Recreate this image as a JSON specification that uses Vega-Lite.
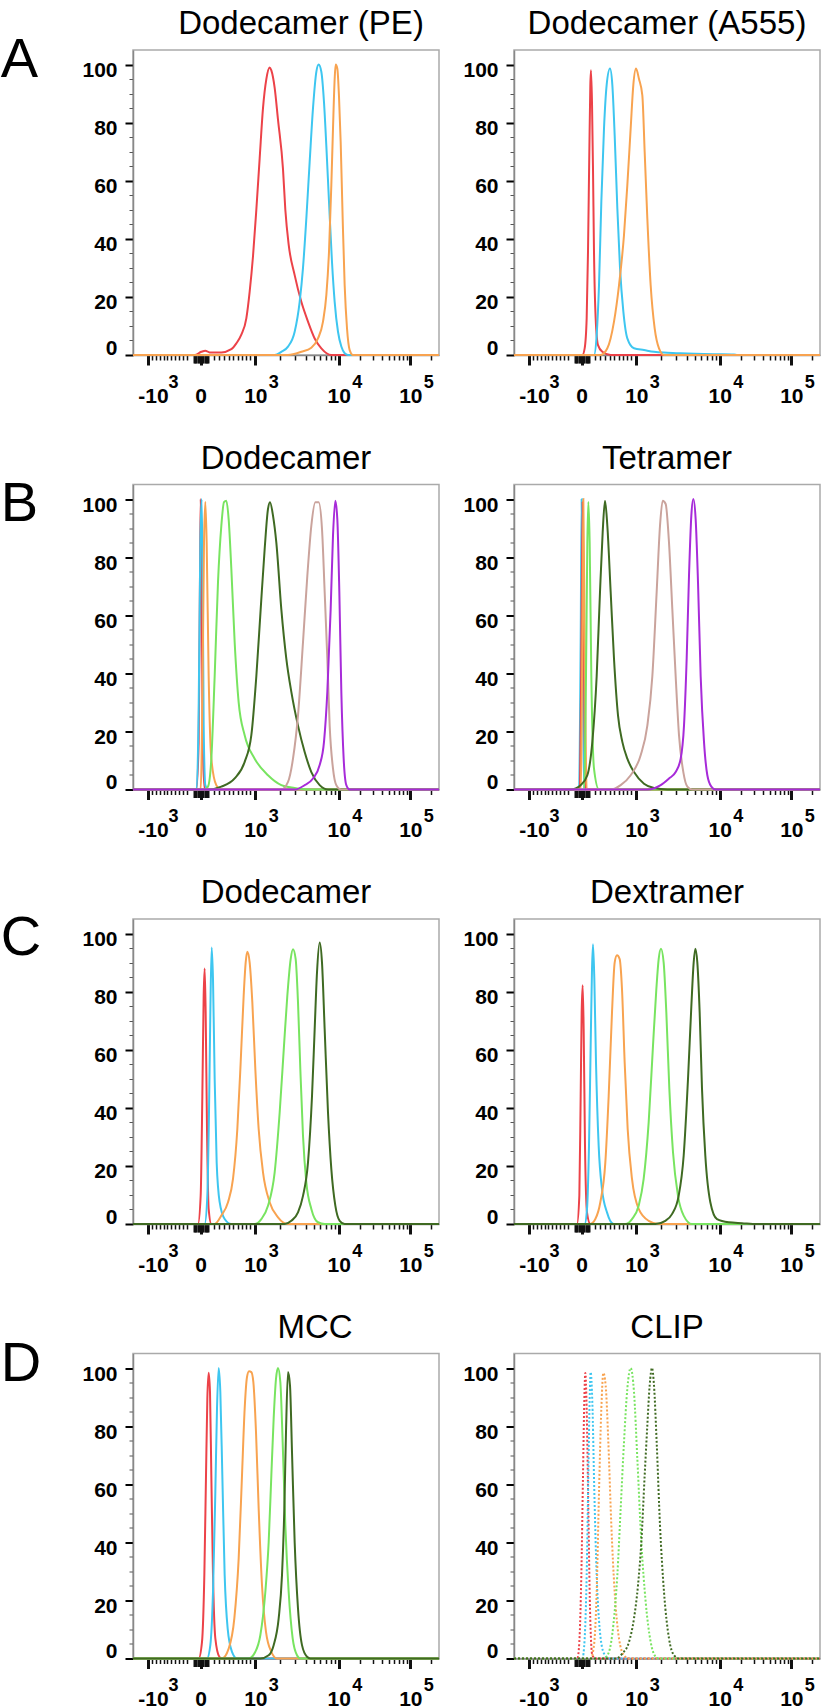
{
"$schema":"https://vega.github.io/schema/vega-lite/v6.json",
"padding":{"left":0,"top":7,"right":0,"bottom":0},
"data":{"values":[
{"p":"A1","s":"red","x":0,"y":0},{"p":"A1","s":"red","x":185,"y":0},{"p":"A1","s":"red","x":205,"y":1.1},{"p":"A1","s":"red","x":217,"y":1.5},{"p":"A1","s":"red","x":230,"y":0.9},{"p":"A1","s":"red","x":265,"y":0.9},{"p":"A1","s":"red","x":295,"y":2},{"p":"A1","s":"red","x":310,"y":4},{"p":"A1","s":"red","x":325,"y":7},{"p":"A1","s":"red","x":340,"y":12.6},{"p":"A1","s":"red","x":350,"y":21.8},{"p":"A1","s":"red","x":360,"y":34},{"p":"A1","s":"red","x":370,"y":50},{"p":"A1","s":"red","x":380,"y":67.7},{"p":"A1","s":"red","x":390,"y":85},{"p":"A1","s":"red","x":400,"y":95},{"p":"A1","s":"red","x":410,"y":99},{"p":"A1","s":"red","x":415,"y":98},{"p":"A1","s":"red","x":425,"y":92},{"p":"A1","s":"red","x":435,"y":81},{"p":"A1","s":"red","x":450,"y":64},{"p":"A1","s":"red","x":457,"y":50},{"p":"A1","s":"red","x":467,"y":38},{"p":"A1","s":"red","x":485,"y":27.5},{"p":"A1","s":"red","x":505,"y":18.3},{"p":"A1","s":"red","x":525,"y":11.5},{"p":"A1","s":"red","x":545,"y":5.7},{"p":"A1","s":"red","x":565,"y":2.3},{"p":"A1","s":"red","x":595,"y":0},{"p":"A1","s":"red","x":918,"y":0},
{"p":"A1","s":"cyan","x":0,"y":0},{"p":"A1","s":"cyan","x":425,"y":0},{"p":"A1","s":"cyan","x":445,"y":1.1},{"p":"A1","s":"cyan","x":465,"y":2.9},{"p":"A1","s":"cyan","x":485,"y":8},{"p":"A1","s":"cyan","x":500,"y":18.3},{"p":"A1","s":"cyan","x":510,"y":30},{"p":"A1","s":"cyan","x":520,"y":47},{"p":"A1","s":"cyan","x":530,"y":66.5},{"p":"A1","s":"cyan","x":540,"y":85},{"p":"A1","s":"cyan","x":550,"y":97.5},{"p":"A1","s":"cyan","x":557,"y":100},{"p":"A1","s":"cyan","x":565,"y":97.5},{"p":"A1","s":"cyan","x":573,"y":87},{"p":"A1","s":"cyan","x":580,"y":72},{"p":"A1","s":"cyan","x":588,"y":52.8},{"p":"A1","s":"cyan","x":597,"y":32},{"p":"A1","s":"cyan","x":605,"y":18.3},{"p":"A1","s":"cyan","x":615,"y":8},{"p":"A1","s":"cyan","x":625,"y":2.9},{"p":"A1","s":"cyan","x":635,"y":0.6},{"p":"A1","s":"cyan","x":645,"y":0},{"p":"A1","s":"cyan","x":918,"y":0},
{"p":"A1","s":"orange","x":0,"y":0},{"p":"A1","s":"orange","x":465,"y":0},{"p":"A1","s":"orange","x":505,"y":1.1},{"p":"A1","s":"orange","x":535,"y":2.5},{"p":"A1","s":"orange","x":555,"y":5.7},{"p":"A1","s":"orange","x":570,"y":11.5},{"p":"A1","s":"orange","x":580,"y":20.6},{"p":"A1","s":"orange","x":588,"y":35.5},{"p":"A1","s":"orange","x":595,"y":58.5},{"p":"A1","s":"orange","x":600,"y":78},{"p":"A1","s":"orange","x":605,"y":95},{"p":"A1","s":"orange","x":608,"y":100},{"p":"A1","s":"orange","x":613,"y":98.6},{"p":"A1","s":"orange","x":618,"y":89},{"p":"A1","s":"orange","x":623,"y":73.4},{"p":"A1","s":"orange","x":629,"y":47},{"p":"A1","s":"orange","x":635,"y":24},{"p":"A1","s":"orange","x":642,"y":9.2},{"p":"A1","s":"orange","x":650,"y":1.7},{"p":"A1","s":"orange","x":660,"y":0},{"p":"A1","s":"orange","x":918,"y":0},

{"p":"A2","s":"red","x":0,"y":0},{"p":"A2","s":"red","x":205,"y":0},{"p":"A2","s":"red","x":212,"y":2.3},{"p":"A2","s":"red","x":218,"y":12.6},{"p":"A2","s":"red","x":222,"y":35.5},{"p":"A2","s":"red","x":226,"y":70},{"p":"A2","s":"red","x":229,"y":93},{"p":"A2","s":"red","x":231,"y":98},{"p":"A2","s":"red","x":234,"y":87},{"p":"A2","s":"red","x":237,"y":64},{"p":"A2","s":"red","x":240,"y":35.5},{"p":"A2","s":"red","x":245,"y":12.6},{"p":"A2","s":"red","x":252,"y":3.4},{"p":"A2","s":"red","x":265,"y":1.1},{"p":"A2","s":"red","x":290,"y":0},{"p":"A2","s":"red","x":918,"y":0},
{"p":"A2","s":"cyan","x":0,"y":0},{"p":"A2","s":"cyan","x":240,"y":0},{"p":"A2","s":"cyan","x":248,"y":6.9},{"p":"A2","s":"cyan","x":255,"y":24},{"p":"A2","s":"cyan","x":262,"y":52.8},{"p":"A2","s":"cyan","x":270,"y":78},{"p":"A2","s":"cyan","x":278,"y":93},{"p":"A2","s":"cyan","x":288,"y":98.6},{"p":"A2","s":"cyan","x":295,"y":93},{"p":"A2","s":"cyan","x":302,"y":75.7},{"p":"A2","s":"cyan","x":310,"y":50.5},{"p":"A2","s":"cyan","x":318,"y":30},{"p":"A2","s":"cyan","x":328,"y":15},{"p":"A2","s":"cyan","x":340,"y":5.7},{"p":"A2","s":"cyan","x":360,"y":2.3},{"p":"A2","s":"cyan","x":390,"y":1.7},{"p":"A2","s":"cyan","x":420,"y":1.1},{"p":"A2","s":"cyan","x":460,"y":0.8},{"p":"A2","s":"cyan","x":500,"y":0.6},{"p":"A2","s":"cyan","x":600,"y":0.3},{"p":"A2","s":"cyan","x":660,"y":0.2},{"p":"A2","s":"cyan","x":670,"y":0},{"p":"A2","s":"cyan","x":918,"y":0},
{"p":"A2","s":"orange","x":0,"y":0},{"p":"A2","s":"orange","x":260,"y":0},{"p":"A2","s":"orange","x":280,"y":2.3},{"p":"A2","s":"orange","x":300,"y":11.5},{"p":"A2","s":"orange","x":315,"y":24},{"p":"A2","s":"orange","x":330,"y":41.3},{"p":"A2","s":"orange","x":340,"y":58.5},{"p":"A2","s":"orange","x":350,"y":78},{"p":"A2","s":"orange","x":358,"y":93},{"p":"A2","s":"orange","x":366,"y":98.6},{"p":"A2","s":"orange","x":375,"y":95},{"p":"A2","s":"orange","x":385,"y":89.4},{"p":"A2","s":"orange","x":392,"y":70},{"p":"A2","s":"orange","x":400,"y":47},{"p":"A2","s":"orange","x":410,"y":24},{"p":"A2","s":"orange","x":422,"y":9.2},{"p":"A2","s":"orange","x":435,"y":2.3},{"p":"A2","s":"orange","x":450,"y":0},{"p":"A2","s":"orange","x":918,"y":0},

{"p":"B1","s":"red","x":0,"y":0},{"p":"B1","s":"red","x":190,"y":0},{"p":"B1","s":"red","x":197,"y":16},{"p":"B1","s":"red","x":201,"y":73.6},{"p":"B1","s":"red","x":203,"y":100},{"p":"B1","s":"red","x":206,"y":73.6},{"p":"B1","s":"red","x":209,"y":16},{"p":"B1","s":"red","x":215,"y":0},{"p":"B1","s":"red","x":918,"y":0},
{"p":"B1","s":"cyan","x":0,"y":0},{"p":"B1","s":"cyan","x":191,"y":0},{"p":"B1","s":"cyan","x":197,"y":27.8},{"p":"B1","s":"cyan","x":202,"y":85},{"p":"B1","s":"cyan","x":206,"y":100},{"p":"B1","s":"cyan","x":209,"y":73.6},{"p":"B1","s":"cyan","x":212,"y":22},{"p":"B1","s":"cyan","x":217,"y":1.5},{"p":"B1","s":"cyan","x":225,"y":0},{"p":"B1","s":"cyan","x":918,"y":0},
{"p":"B1","s":"orange","x":0,"y":0},{"p":"B1","s":"orange","x":203,"y":0},{"p":"B1","s":"orange","x":209,"y":39},{"p":"B1","s":"orange","x":213,"y":85},{"p":"B1","s":"orange","x":217,"y":99},{"p":"B1","s":"orange","x":221,"y":85},{"p":"B1","s":"orange","x":227,"y":39},{"p":"B1","s":"orange","x":235,"y":10.6},{"p":"B1","s":"orange","x":250,"y":1.5},{"p":"B1","s":"orange","x":265,"y":0},{"p":"B1","s":"orange","x":918,"y":0},
{"p":"B1","s":"green","x":0,"y":0},{"p":"B1","s":"green","x":215,"y":0},{"p":"B1","s":"green","x":225,"y":1},{"p":"B1","s":"green","x":235,"y":10.6},{"p":"B1","s":"green","x":245,"y":39},{"p":"B1","s":"green","x":255,"y":71.4},{"p":"B1","s":"green","x":265,"y":90.8},{"p":"B1","s":"green","x":273,"y":98.9},{"p":"B1","s":"green","x":280,"y":99.4},{"p":"B1","s":"green","x":287,"y":93},{"p":"B1","s":"green","x":295,"y":76},{"p":"B1","s":"green","x":305,"y":50.7},{"p":"B1","s":"green","x":317,"y":30},{"p":"B1","s":"green","x":335,"y":18.7},{"p":"B1","s":"green","x":365,"y":10.6},{"p":"B1","s":"green","x":405,"y":4.9},{"p":"B1","s":"green","x":445,"y":1.5},{"p":"B1","s":"green","x":485,"y":0.5},{"p":"B1","s":"green","x":525,"y":0},{"p":"B1","s":"green","x":918,"y":0},
{"p":"B1","s":"darkgreen","x":0,"y":0},{"p":"B1","s":"darkgreen","x":225,"y":0},{"p":"B1","s":"darkgreen","x":265,"y":1},{"p":"B1","s":"darkgreen","x":305,"y":3.8},{"p":"B1","s":"darkgreen","x":335,"y":9.5},{"p":"B1","s":"darkgreen","x":355,"y":18.7},{"p":"B1","s":"darkgreen","x":370,"y":39},{"p":"B1","s":"darkgreen","x":383,"y":62},{"p":"B1","s":"darkgreen","x":395,"y":82.8},{"p":"B1","s":"darkgreen","x":405,"y":96.6},{"p":"B1","s":"darkgreen","x":411,"y":98.9},{"p":"B1","s":"darkgreen","x":420,"y":94.3},{"p":"B1","s":"darkgreen","x":430,"y":85},{"p":"B1","s":"darkgreen","x":445,"y":62},{"p":"B1","s":"darkgreen","x":460,"y":45},{"p":"B1","s":"darkgreen","x":475,"y":33.6},{"p":"B1","s":"darkgreen","x":495,"y":22},{"p":"B1","s":"darkgreen","x":515,"y":12.9},{"p":"B1","s":"darkgreen","x":535,"y":6},{"p":"B1","s":"darkgreen","x":560,"y":1.5},{"p":"B1","s":"darkgreen","x":585,"y":0},{"p":"B1","s":"darkgreen","x":918,"y":0},
{"p":"B1","s":"rosybrown","x":0,"y":0},{"p":"B1","s":"rosybrown","x":445,"y":0},{"p":"B1","s":"rosybrown","x":465,"y":2.6},{"p":"B1","s":"rosybrown","x":480,"y":10.6},{"p":"B1","s":"rosybrown","x":495,"y":25.5},{"p":"B1","s":"rosybrown","x":510,"y":50.7},{"p":"B1","s":"rosybrown","x":523,"y":73.6},{"p":"B1","s":"rosybrown","x":535,"y":90.8},{"p":"B1","s":"rosybrown","x":547,"y":98.9},{"p":"B1","s":"rosybrown","x":557,"y":98.9},{"p":"B1","s":"rosybrown","x":567,"y":89.7},{"p":"B1","s":"rosybrown","x":575,"y":68},{"p":"B1","s":"rosybrown","x":583,"y":45},{"p":"B1","s":"rosybrown","x":590,"y":22},{"p":"B1","s":"rosybrown","x":600,"y":7.2},{"p":"B1","s":"rosybrown","x":610,"y":1.5},{"p":"B1","s":"rosybrown","x":625,"y":0},{"p":"B1","s":"rosybrown","x":918,"y":0},
{"p":"B1","s":"purple","x":0,"y":0},{"p":"B1","s":"purple","x":485,"y":0},{"p":"B1","s":"purple","x":515,"y":1.5},{"p":"B1","s":"purple","x":540,"y":3.8},{"p":"B1","s":"purple","x":560,"y":8.4},{"p":"B1","s":"purple","x":573,"y":16.4},{"p":"B1","s":"purple","x":583,"y":33.6},{"p":"B1","s":"purple","x":593,"y":62},{"p":"B1","s":"purple","x":600,"y":87.4},{"p":"B1","s":"purple","x":607,"y":99.4},{"p":"B1","s":"purple","x":613,"y":93},{"p":"B1","s":"purple","x":619,"y":68},{"p":"B1","s":"purple","x":625,"y":33.6},{"p":"B1","s":"purple","x":632,"y":10.6},{"p":"B1","s":"purple","x":640,"y":1.5},{"p":"B1","s":"purple","x":650,"y":0},{"p":"B1","s":"purple","x":918,"y":0},

{"p":"B2","s":"cyan","x":0,"y":0},{"p":"B2","s":"cyan","x":195,"y":0},{"p":"B2","s":"cyan","x":200,"y":51},{"p":"B2","s":"cyan","x":203,"y":100},{"p":"B2","s":"cyan","x":206,"y":51},{"p":"B2","s":"cyan","x":211,"y":0},{"p":"B2","s":"cyan","x":918,"y":0},
{"p":"B2","s":"red","x":0,"y":0},{"p":"B2","s":"red","x":198,"y":0},{"p":"B2","s":"red","x":203,"y":62},{"p":"B2","s":"red","x":206,"y":99},{"p":"B2","s":"red","x":209,"y":62},{"p":"B2","s":"red","x":214,"y":0},{"p":"B2","s":"red","x":918,"y":0},
{"p":"B2","s":"orange","x":0,"y":0},{"p":"B2","s":"orange","x":200,"y":0},{"p":"B2","s":"orange","x":205,"y":51},{"p":"B2","s":"orange","x":208,"y":100},{"p":"B2","s":"orange","x":212,"y":51},{"p":"B2","s":"orange","x":218,"y":0},{"p":"B2","s":"orange","x":918,"y":0},
{"p":"B2","s":"green","x":0,"y":0},{"p":"B2","s":"green","x":210,"y":0},{"p":"B2","s":"green","x":216,"y":39},{"p":"B2","s":"green","x":220,"y":85},{"p":"B2","s":"green","x":223,"y":99},{"p":"B2","s":"green","x":227,"y":85},{"p":"B2","s":"green","x":232,"y":39},{"p":"B2","s":"green","x":240,"y":7.2},{"p":"B2","s":"green","x":255,"y":0},{"p":"B2","s":"green","x":918,"y":0},
{"p":"B2","s":"darkgreen","x":0,"y":0},{"p":"B2","s":"darkgreen","x":170,"y":0},{"p":"B2","s":"darkgreen","x":200,"y":1.5},{"p":"B2","s":"darkgreen","x":220,"y":4.9},{"p":"B2","s":"darkgreen","x":235,"y":16.4},{"p":"B2","s":"darkgreen","x":248,"y":39},{"p":"B2","s":"darkgreen","x":258,"y":68},{"p":"B2","s":"darkgreen","x":266,"y":88.5},{"p":"B2","s":"darkgreen","x":273,"y":99.4},{"p":"B2","s":"darkgreen","x":280,"y":90.8},{"p":"B2","s":"darkgreen","x":290,"y":68},{"p":"B2","s":"darkgreen","x":300,"y":45},{"p":"B2","s":"darkgreen","x":312,"y":25.5},{"p":"B2","s":"darkgreen","x":325,"y":16.4},{"p":"B2","s":"darkgreen","x":340,"y":10.6},{"p":"B2","s":"darkgreen","x":360,"y":6},{"p":"B2","s":"darkgreen","x":390,"y":2},{"p":"B2","s":"darkgreen","x":420,"y":0.5},{"p":"B2","s":"darkgreen","x":460,"y":0},{"p":"B2","s":"darkgreen","x":918,"y":0},
{"p":"B2","s":"rosybrown","x":0,"y":0},{"p":"B2","s":"rosybrown","x":290,"y":0},{"p":"B2","s":"rosybrown","x":320,"y":1.5},{"p":"B2","s":"rosybrown","x":350,"y":4.9},{"p":"B2","s":"rosybrown","x":380,"y":11.8},{"p":"B2","s":"rosybrown","x":400,"y":22},{"p":"B2","s":"rosybrown","x":415,"y":39},{"p":"B2","s":"rosybrown","x":428,"y":68},{"p":"B2","s":"rosybrown","x":438,"y":90.8},{"p":"B2","s":"rosybrown","x":446,"y":99.4},{"p":"B2","s":"rosybrown","x":455,"y":98.3},{"p":"B2","s":"rosybrown","x":465,"y":85},{"p":"B2","s":"rosybrown","x":475,"y":62},{"p":"B2","s":"rosybrown","x":485,"y":39},{"p":"B2","s":"rosybrown","x":495,"y":18.7},{"p":"B2","s":"rosybrown","x":508,"y":6},{"p":"B2","s":"rosybrown","x":520,"y":1},{"p":"B2","s":"rosybrown","x":535,"y":0},{"p":"B2","s":"rosybrown","x":918,"y":0},
{"p":"B2","s":"purple","x":0,"y":0},{"p":"B2","s":"purple","x":400,"y":0},{"p":"B2","s":"purple","x":440,"y":1.5},{"p":"B2","s":"purple","x":465,"y":3.8},{"p":"B2","s":"purple","x":485,"y":6},{"p":"B2","s":"purple","x":500,"y":10.6},{"p":"B2","s":"purple","x":510,"y":22},{"p":"B2","s":"purple","x":518,"y":45},{"p":"B2","s":"purple","x":525,"y":73.6},{"p":"B2","s":"purple","x":532,"y":94.3},{"p":"B2","s":"purple","x":538,"y":100},{"p":"B2","s":"purple","x":545,"y":93},{"p":"B2","s":"purple","x":552,"y":71.4},{"p":"B2","s":"purple","x":560,"y":39},{"p":"B2","s":"purple","x":570,"y":16.4},{"p":"B2","s":"purple","x":580,"y":4.9},{"p":"B2","s":"purple","x":592,"y":1},{"p":"B2","s":"purple","x":605,"y":0},{"p":"B2","s":"purple","x":918,"y":0},

{"p":"C1","s":"red","x":0,"y":0},{"p":"C1","s":"red","x":195,"y":0},{"p":"C1","s":"red","x":203,"y":9.7},{"p":"C1","s":"red","x":208,"y":44},{"p":"C1","s":"red","x":212,"y":78.6},{"p":"C1","s":"red","x":215,"y":88},{"p":"C1","s":"red","x":218,"y":72.8},{"p":"C1","s":"red","x":222,"y":32.7},{"p":"C1","s":"red","x":227,"y":5.2},{"p":"C1","s":"red","x":235,"y":0},{"p":"C1","s":"red","x":918,"y":0},
{"p":"C1","s":"cyan","x":0,"y":0},{"p":"C1","s":"cyan","x":215,"y":0},{"p":"C1","s":"cyan","x":223,"y":9.7},{"p":"C1","s":"cyan","x":228,"y":38.4},{"p":"C1","s":"cyan","x":232,"y":72.8},{"p":"C1","s":"cyan","x":236,"y":95.2},{"p":"C1","s":"cyan","x":240,"y":84.3},{"p":"C1","s":"cyan","x":245,"y":49.9},{"p":"C1","s":"cyan","x":251,"y":21.2},{"p":"C1","s":"cyan","x":260,"y":7.5},{"p":"C1","s":"cyan","x":275,"y":1.7},{"p":"C1","s":"cyan","x":295,"y":0},{"p":"C1","s":"cyan","x":918,"y":0},
{"p":"C1","s":"orange","x":0,"y":0},{"p":"C1","s":"orange","x":245,"y":0},{"p":"C1","s":"orange","x":265,"y":2.9},{"p":"C1","s":"orange","x":285,"y":7.5},{"p":"C1","s":"orange","x":300,"y":15.5},{"p":"C1","s":"orange","x":313,"y":32.7},{"p":"C1","s":"orange","x":323,"y":55.6},{"p":"C1","s":"orange","x":332,"y":78.6},{"p":"C1","s":"orange","x":338,"y":90},{"p":"C1","s":"orange","x":343,"y":93.7},{"p":"C1","s":"orange","x":350,"y":90},{"p":"C1","s":"orange","x":358,"y":76.3},{"p":"C1","s":"orange","x":367,"y":53.3},{"p":"C1","s":"orange","x":377,"y":32.7},{"p":"C1","s":"orange","x":390,"y":17.8},{"p":"C1","s":"orange","x":410,"y":7.5},{"p":"C1","s":"orange","x":435,"y":2.3},{"p":"C1","s":"orange","x":465,"y":0},{"p":"C1","s":"orange","x":918,"y":0},
{"p":"C1","s":"green","x":0,"y":0},{"p":"C1","s":"green","x":365,"y":0},{"p":"C1","s":"green","x":385,"y":1.7},{"p":"C1","s":"green","x":405,"y":6.3},{"p":"C1","s":"green","x":425,"y":17.8},{"p":"C1","s":"green","x":440,"y":38.4},{"p":"C1","s":"green","x":453,"y":61.4},{"p":"C1","s":"green","x":463,"y":78.6},{"p":"C1","s":"green","x":473,"y":91.2},{"p":"C1","s":"green","x":480,"y":94.6},{"p":"C1","s":"green","x":488,"y":91.2},{"p":"C1","s":"green","x":495,"y":76.3},{"p":"C1","s":"green","x":502,"y":53.3},{"p":"C1","s":"green","x":510,"y":30.4},{"p":"C1","s":"green","x":520,"y":14.3},{"p":"C1","s":"green","x":535,"y":5.2},{"p":"C1","s":"green","x":555,"y":0.6},{"p":"C1","s":"green","x":575,"y":0},{"p":"C1","s":"green","x":918,"y":0},
{"p":"C1","s":"darkgreen","x":0,"y":0},{"p":"C1","s":"darkgreen","x":455,"y":0},{"p":"C1","s":"darkgreen","x":475,"y":1.1},{"p":"C1","s":"darkgreen","x":495,"y":4},{"p":"C1","s":"darkgreen","x":510,"y":9.7},{"p":"C1","s":"darkgreen","x":525,"y":21.2},{"p":"C1","s":"darkgreen","x":537,"y":44},{"p":"C1","s":"darkgreen","x":545,"y":67},{"p":"C1","s":"darkgreen","x":552,"y":86.6},{"p":"C1","s":"darkgreen","x":560,"y":96.9},{"p":"C1","s":"darkgreen","x":567,"y":90},{"p":"C1","s":"darkgreen","x":575,"y":67},{"p":"C1","s":"darkgreen","x":585,"y":38.4},{"p":"C1","s":"darkgreen","x":595,"y":18.9},{"p":"C1","s":"darkgreen","x":607,"y":6.3},{"p":"C1","s":"darkgreen","x":620,"y":1.1},{"p":"C1","s":"darkgreen","x":635,"y":0},{"p":"C1","s":"darkgreen","x":918,"y":0},

{"p":"C2","s":"red","x":0,"y":0},{"p":"C2","s":"red","x":189,"y":0},{"p":"C2","s":"red","x":196,"y":9.7},{"p":"C2","s":"red","x":200,"y":44},{"p":"C2","s":"red","x":203,"y":72.8},{"p":"C2","s":"red","x":206,"y":82.2},{"p":"C2","s":"red","x":209,"y":67},{"p":"C2","s":"red","x":213,"y":26.9},{"p":"C2","s":"red","x":219,"y":4},{"p":"C2","s":"red","x":229,"y":0},{"p":"C2","s":"red","x":918,"y":0},
{"p":"C2","s":"cyan","x":0,"y":0},{"p":"C2","s":"cyan","x":212,"y":0},{"p":"C2","s":"cyan","x":219,"y":5.2},{"p":"C2","s":"cyan","x":225,"y":26.9},{"p":"C2","s":"cyan","x":230,"y":61.4},{"p":"C2","s":"cyan","x":234,"y":87.7},{"p":"C2","s":"cyan","x":237,"y":96.3},{"p":"C2","s":"cyan","x":241,"y":84.3},{"p":"C2","s":"cyan","x":246,"y":55.6},{"p":"C2","s":"cyan","x":254,"y":26.9},{"p":"C2","s":"cyan","x":264,"y":12},{"p":"C2","s":"cyan","x":279,"y":4},{"p":"C2","s":"cyan","x":299,"y":0},{"p":"C2","s":"cyan","x":918,"y":0},
{"p":"C2","s":"orange","x":0,"y":0},{"p":"C2","s":"orange","x":229,"y":0},{"p":"C2","s":"orange","x":244,"y":1.7},{"p":"C2","s":"orange","x":259,"y":7.5},{"p":"C2","s":"orange","x":274,"y":21.2},{"p":"C2","s":"orange","x":284,"y":44},{"p":"C2","s":"orange","x":294,"y":72.8},{"p":"C2","s":"orange","x":302,"y":90},{"p":"C2","s":"orange","x":309,"y":92.5},{"p":"C2","s":"orange","x":317,"y":91.2},{"p":"C2","s":"orange","x":324,"y":80.8},{"p":"C2","s":"orange","x":332,"y":55.6},{"p":"C2","s":"orange","x":341,"y":32.7},{"p":"C2","s":"orange","x":354,"y":15.5},{"p":"C2","s":"orange","x":374,"y":5.2},{"p":"C2","s":"orange","x":404,"y":1.1},{"p":"C2","s":"orange","x":434,"y":0},{"p":"C2","s":"orange","x":918,"y":0},
{"p":"C2","s":"green","x":0,"y":0},{"p":"C2","s":"green","x":334,"y":0},{"p":"C2","s":"green","x":354,"y":1.7},{"p":"C2","s":"green","x":374,"y":6.3},{"p":"C2","s":"green","x":389,"y":15.5},{"p":"C2","s":"green","x":404,"y":35},{"p":"C2","s":"green","x":417,"y":61.4},{"p":"C2","s":"green","x":427,"y":80.8},{"p":"C2","s":"green","x":434,"y":91.2},{"p":"C2","s":"green","x":441,"y":94.8},{"p":"C2","s":"green","x":449,"y":90},{"p":"C2","s":"green","x":457,"y":72.8},{"p":"C2","s":"green","x":466,"y":46.6},{"p":"C2","s":"green","x":477,"y":24.7},{"p":"C2","s":"green","x":492,"y":9.7},{"p":"C2","s":"green","x":509,"y":2.9},{"p":"C2","s":"green","x":534,"y":0},{"p":"C2","s":"green","x":918,"y":0},
{"p":"C2","s":"darkgreen","x":0,"y":0},{"p":"C2","s":"darkgreen","x":424,"y":0},{"p":"C2","s":"darkgreen","x":454,"y":1.1},{"p":"C2","s":"darkgreen","x":474,"y":3.4},{"p":"C2","s":"darkgreen","x":494,"y":9.7},{"p":"C2","s":"darkgreen","x":509,"y":23.5},{"p":"C2","s":"darkgreen","x":522,"y":49.9},{"p":"C2","s":"darkgreen","x":532,"y":74.9},{"p":"C2","s":"darkgreen","x":539,"y":90},{"p":"C2","s":"darkgreen","x":544,"y":94.8},{"p":"C2","s":"darkgreen","x":550,"y":90},{"p":"C2","s":"darkgreen","x":557,"y":72.8},{"p":"C2","s":"darkgreen","x":564,"y":46.6},{"p":"C2","s":"darkgreen","x":574,"y":23.5},{"p":"C2","s":"darkgreen","x":589,"y":7.5},{"p":"C2","s":"darkgreen","x":609,"y":1.7},{"p":"C2","s":"darkgreen","x":644,"y":0.6},{"p":"C2","s":"darkgreen","x":684,"y":0.3},{"p":"C2","s":"darkgreen","x":730,"y":0},{"p":"C2","s":"darkgreen","x":918,"y":0},

{"p":"D1","s":"red","x":0,"y":0},{"p":"D1","s":"red","x":197,"y":0},{"p":"D1","s":"red","x":207,"y":5.7},{"p":"D1","s":"red","x":214,"y":28.7},{"p":"D1","s":"red","x":219,"y":63},{"p":"D1","s":"red","x":223,"y":89.4},{"p":"D1","s":"red","x":227,"y":98.4},{"p":"D1","s":"red","x":231,"y":91.7},{"p":"D1","s":"red","x":235,"y":63},{"p":"D1","s":"red","x":240,"y":28.7},{"p":"D1","s":"red","x":247,"y":6.9},{"p":"D1","s":"red","x":259,"y":0.6},{"p":"D1","s":"red","x":267,"y":0},{"p":"D1","s":"red","x":918,"y":0},
{"p":"D1","s":"cyan","x":0,"y":0},{"p":"D1","s":"cyan","x":222,"y":0},{"p":"D1","s":"cyan","x":232,"y":4.6},{"p":"D1","s":"cyan","x":240,"y":22.9},{"p":"D1","s":"cyan","x":247,"y":57.3},{"p":"D1","s":"cyan","x":252,"y":86},{"p":"D1","s":"cyan","x":257,"y":100},{"p":"D1","s":"cyan","x":262,"y":91.7},{"p":"D1","s":"cyan","x":268,"y":63},{"p":"D1","s":"cyan","x":275,"y":28.7},{"p":"D1","s":"cyan","x":284,"y":10.3},{"p":"D1","s":"cyan","x":297,"y":2.3},{"p":"D1","s":"cyan","x":312,"y":0},{"p":"D1","s":"cyan","x":918,"y":0},
{"p":"D1","s":"orange","x":0,"y":0},{"p":"D1","s":"orange","x":267,"y":0},{"p":"D1","s":"orange","x":287,"y":3.4},{"p":"D1","s":"orange","x":304,"y":13.8},{"p":"D1","s":"orange","x":317,"y":34.4},{"p":"D1","s":"orange","x":327,"y":63},{"p":"D1","s":"orange","x":335,"y":86},{"p":"D1","s":"orange","x":342,"y":96.9},{"p":"D1","s":"orange","x":348,"y":98.9},{"p":"D1","s":"orange","x":355,"y":98.6},{"p":"D1","s":"orange","x":361,"y":95.2},{"p":"D1","s":"orange","x":369,"y":78},{"p":"D1","s":"orange","x":377,"y":51.6},{"p":"D1","s":"orange","x":387,"y":25.2},{"p":"D1","s":"orange","x":399,"y":9.2},{"p":"D1","s":"orange","x":415,"y":2.3},{"p":"D1","s":"orange","x":432,"y":0},{"p":"D1","s":"orange","x":918,"y":0},
{"p":"D1","s":"green","x":0,"y":0},{"p":"D1","s":"green","x":347,"y":0},{"p":"D1","s":"green","x":367,"y":2.3},{"p":"D1","s":"green","x":382,"y":8},{"p":"D1","s":"green","x":397,"y":22.9},{"p":"D1","s":"green","x":407,"y":40},{"p":"D1","s":"green","x":415,"y":63},{"p":"D1","s":"green","x":422,"y":82.6},{"p":"D1","s":"green","x":429,"y":96.3},{"p":"D1","s":"green","x":435,"y":100},{"p":"D1","s":"green","x":442,"y":95.2},{"p":"D1","s":"green","x":449,"y":74.5},{"p":"D1","s":"green","x":457,"y":45.9},{"p":"D1","s":"green","x":467,"y":22.9},{"p":"D1","s":"green","x":479,"y":6.9},{"p":"D1","s":"green","x":492,"y":1.1},{"p":"D1","s":"green","x":502,"y":0},{"p":"D1","s":"green","x":918,"y":0},
{"p":"D1","s":"darkgreen","x":0,"y":0},{"p":"D1","s":"darkgreen","x":382,"y":0},{"p":"D1","s":"darkgreen","x":407,"y":1.1},{"p":"D1","s":"darkgreen","x":422,"y":4.6},{"p":"D1","s":"darkgreen","x":437,"y":13.8},{"p":"D1","s":"darkgreen","x":447,"y":28.7},{"p":"D1","s":"darkgreen","x":454,"y":51.6},{"p":"D1","s":"darkgreen","x":459,"y":78},{"p":"D1","s":"darkgreen","x":465,"y":98.6},{"p":"D1","s":"darkgreen","x":471,"y":94},{"p":"D1","s":"darkgreen","x":477,"y":71.1},{"p":"D1","s":"darkgreen","x":485,"y":40},{"p":"D1","s":"darkgreen","x":495,"y":17.2},{"p":"D1","s":"darkgreen","x":507,"y":4.6},{"p":"D1","s":"darkgreen","x":522,"y":0.6},{"p":"D1","s":"darkgreen","x":532,"y":0},{"p":"D1","s":"darkgreen","x":918,"y":0},

{"p":"D2","s":"red","x":0,"y":0},{"p":"D2","s":"red","x":190,"y":0},{"p":"D2","s":"red","x":196,"y":5.7},{"p":"D2","s":"red","x":202,"y":28.7},{"p":"D2","s":"red","x":207,"y":63},{"p":"D2","s":"red","x":211,"y":89.4},{"p":"D2","s":"red","x":214,"y":98.3},{"p":"D2","s":"red","x":218,"y":86},{"p":"D2","s":"red","x":223,"y":51.6},{"p":"D2","s":"red","x":228,"y":17.2},{"p":"D2","s":"red","x":235,"y":1.1},{"p":"D2","s":"red","x":245,"y":0},{"p":"D2","s":"red","x":918,"y":0},
{"p":"D2","s":"cyan","x":0,"y":0},{"p":"D2","s":"cyan","x":205,"y":0},{"p":"D2","s":"cyan","x":212,"y":6.9},{"p":"D2","s":"cyan","x":218,"y":28.7},{"p":"D2","s":"cyan","x":223,"y":63},{"p":"D2","s":"cyan","x":227,"y":89.4},{"p":"D2","s":"cyan","x":230,"y":98.6},{"p":"D2","s":"cyan","x":235,"y":88.3},{"p":"D2","s":"cyan","x":241,"y":57.3},{"p":"D2","s":"cyan","x":248,"y":28.7},{"p":"D2","s":"cyan","x":257,"y":10.3},{"p":"D2","s":"cyan","x":270,"y":1.7},{"p":"D2","s":"cyan","x":285,"y":0},{"p":"D2","s":"cyan","x":918,"y":0},
{"p":"D2","s":"orange","x":0,"y":0},{"p":"D2","s":"orange","x":230,"y":0},{"p":"D2","s":"orange","x":240,"y":4.6},{"p":"D2","s":"orange","x":248,"y":22.9},{"p":"D2","s":"orange","x":255,"y":57.3},{"p":"D2","s":"orange","x":262,"y":86},{"p":"D2","s":"orange","x":268,"y":98.3},{"p":"D2","s":"orange","x":275,"y":94},{"p":"D2","s":"orange","x":283,"y":74.5},{"p":"D2","s":"orange","x":292,"y":45.9},{"p":"D2","s":"orange","x":302,"y":22.9},{"p":"D2","s":"orange","x":315,"y":6.9},{"p":"D2","s":"orange","x":330,"y":1.1},{"p":"D2","s":"orange","x":345,"y":0},{"p":"D2","s":"orange","x":918,"y":0},
{"p":"D2","s":"green","x":0,"y":0},{"p":"D2","s":"green","x":270,"y":0},{"p":"D2","s":"green","x":285,"y":2.3},{"p":"D2","s":"green","x":298,"y":11.5},{"p":"D2","s":"green","x":310,"y":28.7},{"p":"D2","s":"green","x":320,"y":51.6},{"p":"D2","s":"green","x":330,"y":74.5},{"p":"D2","s":"green","x":340,"y":92.9},{"p":"D2","s":"green","x":350,"y":100},{"p":"D2","s":"green","x":360,"y":91.7},{"p":"D2","s":"green","x":370,"y":68.8},{"p":"D2","s":"green","x":382,"y":40},{"p":"D2","s":"green","x":395,"y":19.5},{"p":"D2","s":"green","x":410,"y":5.7},{"p":"D2","s":"green","x":425,"y":0.6},{"p":"D2","s":"green","x":435,"y":0},{"p":"D2","s":"green","x":918,"y":0},
{"p":"D2","s":"darkgreen","x":0,"y":0},{"p":"D2","s":"darkgreen","x":305,"y":0},{"p":"D2","s":"darkgreen","x":325,"y":1.7},{"p":"D2","s":"darkgreen","x":345,"y":5.7},{"p":"D2","s":"darkgreen","x":360,"y":13.8},{"p":"D2","s":"darkgreen","x":372,"y":25.2},{"p":"D2","s":"darkgreen","x":382,"y":40},{"p":"D2","s":"darkgreen","x":392,"y":63},{"p":"D2","s":"darkgreen","x":400,"y":80.3},{"p":"D2","s":"darkgreen","x":407,"y":94},{"p":"D2","s":"darkgreen","x":414,"y":100},{"p":"D2","s":"darkgreen","x":420,"y":94},{"p":"D2","s":"darkgreen","x":428,"y":74.5},{"p":"D2","s":"darkgreen","x":438,"y":45.9},{"p":"D2","s":"darkgreen","x":450,"y":22.9},{"p":"D2","s":"darkgreen","x":465,"y":6.9},{"p":"D2","s":"darkgreen","x":480,"y":1.1},{"p":"D2","s":"darkgreen","x":495,"y":0},{"p":"D2","s":"darkgreen","x":918,"y":0}
]},
"spacing":34.5,
"vconcat":[
{"spacing":18,"title":{"text":"A","orient":"left","anchor":"end","angle":0,"align":"left","baseline":"top","fontSize":56,"offset":43,"dy":26},
 "hconcat":[
 {"width":306,"height":305,"title":{"text":"Dodecamer (PE)","dx":15},"transform":[{"filter":"datum.p==='A1'"}],
  "layer":[
   {"mark":{"type":"line","interpolate":"monotone","strokeWidth":2},"encoding":{
     "x":{"field":"x","type":"quantitative","scale":{"domain":[0,918],"nice":false,"zero":false},"axis":{"title":null,"orient":"bottom","values":[45,58,70,81,92,103,114,126,138,150,163,182,186,190,194,198,203,207,211,215,219,223,226,244,259,274,287,301,314,328,340,352,367,442,486,518,542,562,578,593,606,617,682,720,746,767,784,799,811,822,832,894],"labelExpr":"datum.value==45?'-10':datum.value==203?'0':(datum.value==367||datum.value==617||datum.value==832)?'10':''","tickSize":{"condition":[{"test":"indexof([45,203,367,617,832],datum.value)>=0","value":10},{"test":"datum.value>180&&datum.value<228","value":8}],"value":5},"tickWidth":{"condition":[{"test":"indexof([45,203,367,617,832],datum.value)>=0","value":3},{"test":"datum.value>180&&datum.value<228","value":2}],"value":1.5},"labelOffset":{"condition":{"test":"datum.value==45","value":5},"value":0},"labelPadding":20}},
     "y":{"field":"y","type":"quantitative","scale":{"domain":[0,105],"nice":false},"axis":{"title":null,"values":[0,5,10,15,20,25,30,35,40,45,50,55,60,65,70,75,80,85,90,95,100],"labelExpr":"datum.value%20==0?''+datum.value:''","tickSize":{"condition":{"test":"datum.value%20==0","value":8},"value":4},"tickWidth":{"condition":{"test":"datum.value%20==0","value":2},"value":1},"tickColor":{"condition":{"test":"datum.value%20==0","value":"#000"},"value":"#555"},"labelOffset":{"condition":{"test":"datum.value==0","value":-7},"value":6},"labelBaseline":"middle","labelPadding":8}},
     "color":{"field":"s","type":"nominal","legend":null,"scale":{"domain":["red","cyan","orange","green","darkgreen","rosybrown","purple"],"range":["#ec4248","#3ec6f0","#f8a350","#78e460","#3f6a22","#caa39c","#a72bd9"]}}}},
   {"mark":{"type":"point","opacity":0,"size":1},"encoding":{"x":{"field":"x","type":"quantitative","scale":{"domain":[0,918],"nice":false,"zero":false},"axis":{"title":null,"orient":"bottom","values":[45,367,617,832],"labelExpr":"datum.value==617?'4':datum.value==832?'5':'3'","ticks":false,"domain":false,"labelAlign":"left","labelFontSize":18,"labelOffset":{"condition":{"test":"datum.value==45","value":20},"value":13},"labelPadding":18}}}}
  ],"resolve":{"axis":{"x":"independent"}}},
 {"width":306,"height":305,"title":{"text":"Dodecamer (A555)"},"transform":[{"filter":"datum.p==='A2'"}],
  "layer":[
   {"mark":{"type":"line","interpolate":"monotone","strokeWidth":2},"encoding":{
     "x":{"field":"x","type":"quantitative","scale":{"domain":[0,918],"nice":false,"zero":false},"axis":{"title":null,"orient":"bottom","values":[45,58,70,81,92,103,114,126,138,150,163,182,186,190,194,198,203,207,211,215,219,223,226,244,259,274,287,301,314,328,340,352,367,442,486,518,542,562,578,593,606,617,682,720,746,767,784,799,811,822,832,894],"labelExpr":"datum.value==45?'-10':datum.value==203?'0':(datum.value==367||datum.value==617||datum.value==832)?'10':''","tickSize":{"condition":[{"test":"indexof([45,203,367,617,832],datum.value)>=0","value":10},{"test":"datum.value>180&&datum.value<228","value":8}],"value":5},"tickWidth":{"condition":[{"test":"indexof([45,203,367,617,832],datum.value)>=0","value":3},{"test":"datum.value>180&&datum.value<228","value":2}],"value":1.5},"labelOffset":{"condition":{"test":"datum.value==45","value":5},"value":0},"labelPadding":20}},
     "y":{"field":"y","type":"quantitative","scale":{"domain":[0,105],"nice":false},"axis":{"title":null,"values":[0,5,10,15,20,25,30,35,40,45,50,55,60,65,70,75,80,85,90,95,100],"labelExpr":"datum.value%20==0?''+datum.value:''","tickSize":{"condition":{"test":"datum.value%20==0","value":8},"value":4},"tickWidth":{"condition":{"test":"datum.value%20==0","value":2},"value":1},"tickColor":{"condition":{"test":"datum.value%20==0","value":"#000"},"value":"#555"},"labelOffset":{"condition":{"test":"datum.value==0","value":-7},"value":6},"labelBaseline":"middle","labelPadding":8}},
     "color":{"field":"s","type":"nominal","legend":null,"scale":{"domain":["red","cyan","orange","green","darkgreen","rosybrown","purple"],"range":["#ec4248","#3ec6f0","#f8a350","#78e460","#3f6a22","#caa39c","#a72bd9"]}}}},
   {"mark":{"type":"point","opacity":0,"size":1},"encoding":{"x":{"field":"x","type":"quantitative","scale":{"domain":[0,918],"nice":false,"zero":false},"axis":{"title":null,"orient":"bottom","values":[45,367,617,832],"labelExpr":"datum.value==617?'4':datum.value==832?'5':'3'","ticks":false,"domain":false,"labelAlign":"left","labelFontSize":18,"labelOffset":{"condition":{"test":"datum.value==45","value":20},"value":13},"labelPadding":18}}}}
  ],"resolve":{"axis":{"x":"independent"}}}
 ]},
{"spacing":18,"title":{"text":"B","orient":"left","anchor":"end","angle":0,"align":"left","baseline":"top","fontSize":56,"offset":43,"dy":35},
 "hconcat":[
 {"width":306,"height":305,"title":{"text":"Dodecamer"},"transform":[{"filter":"datum.p==='B1'"}],
  "layer":[
   {"mark":{"type":"line","interpolate":"monotone","strokeWidth":2},"encoding":{
     "x":{"field":"x","type":"quantitative","scale":{"domain":[0,918],"nice":false,"zero":false},"axis":{"title":null,"orient":"bottom","values":[45,58,70,81,92,103,114,126,138,150,163,182,186,190,194,198,203,207,211,215,219,223,226,244,259,274,287,301,314,328,340,352,367,442,486,518,542,562,578,593,606,617,682,720,746,767,784,799,811,822,832,894],"labelExpr":"datum.value==45?'-10':datum.value==203?'0':(datum.value==367||datum.value==617||datum.value==832)?'10':''","tickSize":{"condition":[{"test":"indexof([45,203,367,617,832],datum.value)>=0","value":10},{"test":"datum.value>180&&datum.value<228","value":8}],"value":5},"tickWidth":{"condition":[{"test":"indexof([45,203,367,617,832],datum.value)>=0","value":3},{"test":"datum.value>180&&datum.value<228","value":2}],"value":1.5},"labelOffset":{"condition":{"test":"datum.value==45","value":5},"value":0},"labelPadding":20}},
     "y":{"field":"y","type":"quantitative","scale":{"domain":[0,105],"nice":false},"axis":{"title":null,"values":[0,5,10,15,20,25,30,35,40,45,50,55,60,65,70,75,80,85,90,95,100],"labelExpr":"datum.value%20==0?''+datum.value:''","tickSize":{"condition":{"test":"datum.value%20==0","value":8},"value":4},"tickWidth":{"condition":{"test":"datum.value%20==0","value":2},"value":1},"tickColor":{"condition":{"test":"datum.value%20==0","value":"#000"},"value":"#555"},"labelOffset":{"condition":{"test":"datum.value==0","value":-7},"value":6},"labelBaseline":"middle","labelPadding":8}},
     "color":{"field":"s","type":"nominal","legend":null,"scale":{"domain":["red","cyan","orange","green","darkgreen","rosybrown","purple"],"range":["#ec4248","#3ec6f0","#f8a350","#78e460","#3f6a22","#caa39c","#a72bd9"]}}}},
   {"mark":{"type":"point","opacity":0,"size":1},"encoding":{"x":{"field":"x","type":"quantitative","scale":{"domain":[0,918],"nice":false,"zero":false},"axis":{"title":null,"orient":"bottom","values":[45,367,617,832],"labelExpr":"datum.value==617?'4':datum.value==832?'5':'3'","ticks":false,"domain":false,"labelAlign":"left","labelFontSize":18,"labelOffset":{"condition":{"test":"datum.value==45","value":20},"value":13},"labelPadding":18}}}}
  ],"resolve":{"axis":{"x":"independent"}}},
 {"width":306,"height":305,"title":{"text":"Tetramer"},"transform":[{"filter":"datum.p==='B2'"}],
  "layer":[
   {"mark":{"type":"line","interpolate":"monotone","strokeWidth":2},"encoding":{
     "x":{"field":"x","type":"quantitative","scale":{"domain":[0,918],"nice":false,"zero":false},"axis":{"title":null,"orient":"bottom","values":[45,58,70,81,92,103,114,126,138,150,163,182,186,190,194,198,203,207,211,215,219,223,226,244,259,274,287,301,314,328,340,352,367,442,486,518,542,562,578,593,606,617,682,720,746,767,784,799,811,822,832,894],"labelExpr":"datum.value==45?'-10':datum.value==203?'0':(datum.value==367||datum.value==617||datum.value==832)?'10':''","tickSize":{"condition":[{"test":"indexof([45,203,367,617,832],datum.value)>=0","value":10},{"test":"datum.value>180&&datum.value<228","value":8}],"value":5},"tickWidth":{"condition":[{"test":"indexof([45,203,367,617,832],datum.value)>=0","value":3},{"test":"datum.value>180&&datum.value<228","value":2}],"value":1.5},"labelOffset":{"condition":{"test":"datum.value==45","value":5},"value":0},"labelPadding":20}},
     "y":{"field":"y","type":"quantitative","scale":{"domain":[0,105],"nice":false},"axis":{"title":null,"values":[0,5,10,15,20,25,30,35,40,45,50,55,60,65,70,75,80,85,90,95,100],"labelExpr":"datum.value%20==0?''+datum.value:''","tickSize":{"condition":{"test":"datum.value%20==0","value":8},"value":4},"tickWidth":{"condition":{"test":"datum.value%20==0","value":2},"value":1},"tickColor":{"condition":{"test":"datum.value%20==0","value":"#000"},"value":"#555"},"labelOffset":{"condition":{"test":"datum.value==0","value":-7},"value":6},"labelBaseline":"middle","labelPadding":8}},
     "color":{"field":"s","type":"nominal","legend":null,"scale":{"domain":["red","cyan","orange","green","darkgreen","rosybrown","purple"],"range":["#ec4248","#3ec6f0","#f8a350","#78e460","#3f6a22","#caa39c","#a72bd9"]}}}},
   {"mark":{"type":"point","opacity":0,"size":1},"encoding":{"x":{"field":"x","type":"quantitative","scale":{"domain":[0,918],"nice":false,"zero":false},"axis":{"title":null,"orient":"bottom","values":[45,367,617,832],"labelExpr":"datum.value==617?'4':datum.value==832?'5':'3'","ticks":false,"domain":false,"labelAlign":"left","labelFontSize":18,"labelOffset":{"condition":{"test":"datum.value==45","value":20},"value":13},"labelPadding":18}}}}
  ],"resolve":{"axis":{"x":"independent"}}}
 ]},
{"spacing":18,"title":{"text":"C","orient":"left","anchor":"end","angle":0,"align":"left","baseline":"top","fontSize":56,"offset":40,"dy":35},
 "hconcat":[
 {"width":306,"height":305,"title":{"text":"Dodecamer"},"transform":[{"filter":"datum.p==='C1'"}],
  "layer":[
   {"mark":{"type":"line","interpolate":"monotone","strokeWidth":2},"encoding":{
     "x":{"field":"x","type":"quantitative","scale":{"domain":[0,918],"nice":false,"zero":false},"axis":{"title":null,"orient":"bottom","values":[45,58,70,81,92,103,114,126,138,150,163,182,186,190,194,198,203,207,211,215,219,223,226,244,259,274,287,301,314,328,340,352,367,442,486,518,542,562,578,593,606,617,682,720,746,767,784,799,811,822,832,894],"labelExpr":"datum.value==45?'-10':datum.value==203?'0':(datum.value==367||datum.value==617||datum.value==832)?'10':''","tickSize":{"condition":[{"test":"indexof([45,203,367,617,832],datum.value)>=0","value":10},{"test":"datum.value>180&&datum.value<228","value":8}],"value":5},"tickWidth":{"condition":[{"test":"indexof([45,203,367,617,832],datum.value)>=0","value":3},{"test":"datum.value>180&&datum.value<228","value":2}],"value":1.5},"labelOffset":{"condition":{"test":"datum.value==45","value":5},"value":0},"labelPadding":20}},
     "y":{"field":"y","type":"quantitative","scale":{"domain":[0,105],"nice":false},"axis":{"title":null,"values":[0,5,10,15,20,25,30,35,40,45,50,55,60,65,70,75,80,85,90,95,100],"labelExpr":"datum.value%20==0?''+datum.value:''","tickSize":{"condition":{"test":"datum.value%20==0","value":8},"value":4},"tickWidth":{"condition":{"test":"datum.value%20==0","value":2},"value":1},"tickColor":{"condition":{"test":"datum.value%20==0","value":"#000"},"value":"#555"},"labelOffset":{"condition":{"test":"datum.value==0","value":-7},"value":6},"labelBaseline":"middle","labelPadding":8}},
     "color":{"field":"s","type":"nominal","legend":null,"scale":{"domain":["red","cyan","orange","green","darkgreen","rosybrown","purple"],"range":["#ec4248","#3ec6f0","#f8a350","#78e460","#3f6a22","#caa39c","#a72bd9"]}}}},
   {"mark":{"type":"point","opacity":0,"size":1},"encoding":{"x":{"field":"x","type":"quantitative","scale":{"domain":[0,918],"nice":false,"zero":false},"axis":{"title":null,"orient":"bottom","values":[45,367,617,832],"labelExpr":"datum.value==617?'4':datum.value==832?'5':'3'","ticks":false,"domain":false,"labelAlign":"left","labelFontSize":18,"labelOffset":{"condition":{"test":"datum.value==45","value":20},"value":13},"labelPadding":18}}}}
  ],"resolve":{"axis":{"x":"independent"}}},
 {"width":306,"height":305,"title":{"text":"Dextramer"},"transform":[{"filter":"datum.p==='C2'"}],
  "layer":[
   {"mark":{"type":"line","interpolate":"monotone","strokeWidth":2},"encoding":{
     "x":{"field":"x","type":"quantitative","scale":{"domain":[0,918],"nice":false,"zero":false},"axis":{"title":null,"orient":"bottom","values":[45,58,70,81,92,103,114,126,138,150,163,182,186,190,194,198,203,207,211,215,219,223,226,244,259,274,287,301,314,328,340,352,367,442,486,518,542,562,578,593,606,617,682,720,746,767,784,799,811,822,832,894],"labelExpr":"datum.value==45?'-10':datum.value==203?'0':(datum.value==367||datum.value==617||datum.value==832)?'10':''","tickSize":{"condition":[{"test":"indexof([45,203,367,617,832],datum.value)>=0","value":10},{"test":"datum.value>180&&datum.value<228","value":8}],"value":5},"tickWidth":{"condition":[{"test":"indexof([45,203,367,617,832],datum.value)>=0","value":3},{"test":"datum.value>180&&datum.value<228","value":2}],"value":1.5},"labelOffset":{"condition":{"test":"datum.value==45","value":5},"value":0},"labelPadding":20}},
     "y":{"field":"y","type":"quantitative","scale":{"domain":[0,105],"nice":false},"axis":{"title":null,"values":[0,5,10,15,20,25,30,35,40,45,50,55,60,65,70,75,80,85,90,95,100],"labelExpr":"datum.value%20==0?''+datum.value:''","tickSize":{"condition":{"test":"datum.value%20==0","value":8},"value":4},"tickWidth":{"condition":{"test":"datum.value%20==0","value":2},"value":1},"tickColor":{"condition":{"test":"datum.value%20==0","value":"#000"},"value":"#555"},"labelOffset":{"condition":{"test":"datum.value==0","value":-7},"value":6},"labelBaseline":"middle","labelPadding":8}},
     "color":{"field":"s","type":"nominal","legend":null,"scale":{"domain":["red","cyan","orange","green","darkgreen","rosybrown","purple"],"range":["#ec4248","#3ec6f0","#f8a350","#78e460","#3f6a22","#caa39c","#a72bd9"]}}}},
   {"mark":{"type":"point","opacity":0,"size":1},"encoding":{"x":{"field":"x","type":"quantitative","scale":{"domain":[0,918],"nice":false,"zero":false},"axis":{"title":null,"orient":"bottom","values":[45,367,617,832],"labelExpr":"datum.value==617?'4':datum.value==832?'5':'3'","ticks":false,"domain":false,"labelAlign":"left","labelFontSize":18,"labelOffset":{"condition":{"test":"datum.value==45","value":20},"value":13},"labelPadding":18}}}}
  ],"resolve":{"axis":{"x":"independent"}}}
 ]},
{"spacing":18,"title":{"text":"D","orient":"left","anchor":"end","angle":0,"align":"left","baseline":"top","fontSize":56,"offset":40,"dy":26},
 "hconcat":[
 {"width":306,"height":305,"title":{"text":"MCC","dx":29},"transform":[{"filter":"datum.p==='D1'"}],
  "layer":[
   {"mark":{"type":"line","interpolate":"monotone","strokeWidth":2},"encoding":{
     "x":{"field":"x","type":"quantitative","scale":{"domain":[0,918],"nice":false,"zero":false},"axis":{"title":null,"orient":"bottom","values":[45,58,70,81,92,103,114,126,138,150,163,182,186,190,194,198,203,207,211,215,219,223,226,244,259,274,287,301,314,328,340,352,367,442,486,518,542,562,578,593,606,617,682,720,746,767,784,799,811,822,832,894],"labelExpr":"datum.value==45?'-10':datum.value==203?'0':(datum.value==367||datum.value==617||datum.value==832)?'10':''","tickSize":{"condition":[{"test":"indexof([45,203,367,617,832],datum.value)>=0","value":10},{"test":"datum.value>180&&datum.value<228","value":8}],"value":5},"tickWidth":{"condition":[{"test":"indexof([45,203,367,617,832],datum.value)>=0","value":3},{"test":"datum.value>180&&datum.value<228","value":2}],"value":1.5},"labelOffset":{"condition":{"test":"datum.value==45","value":5},"value":0},"labelPadding":20}},
     "y":{"field":"y","type":"quantitative","scale":{"domain":[0,105],"nice":false},"axis":{"title":null,"values":[0,5,10,15,20,25,30,35,40,45,50,55,60,65,70,75,80,85,90,95,100],"labelExpr":"datum.value%20==0?''+datum.value:''","tickSize":{"condition":{"test":"datum.value%20==0","value":8},"value":4},"tickWidth":{"condition":{"test":"datum.value%20==0","value":2},"value":1},"tickColor":{"condition":{"test":"datum.value%20==0","value":"#000"},"value":"#555"},"labelOffset":{"condition":{"test":"datum.value==0","value":-7},"value":6},"labelBaseline":"middle","labelPadding":8}},
     "color":{"field":"s","type":"nominal","legend":null,"scale":{"domain":["red","cyan","orange","green","darkgreen","rosybrown","purple"],"range":["#ec4248","#3ec6f0","#f8a350","#78e460","#3f6a22","#caa39c","#a72bd9"]}}}},
   {"mark":{"type":"point","opacity":0,"size":1},"encoding":{"x":{"field":"x","type":"quantitative","scale":{"domain":[0,918],"nice":false,"zero":false},"axis":{"title":null,"orient":"bottom","values":[45,367,617,832],"labelExpr":"datum.value==617?'4':datum.value==832?'5':'3'","ticks":false,"domain":false,"labelAlign":"left","labelFontSize":18,"labelOffset":{"condition":{"test":"datum.value==45","value":20},"value":13},"labelPadding":18}}}}
  ],"resolve":{"axis":{"x":"independent"}}},
 {"width":306,"height":305,"title":{"text":"CLIP"},"transform":[{"filter":"datum.p==='D2'"}],
  "layer":[
   {"mark":{"type":"line","interpolate":"monotone","strokeWidth":2,"strokeDash":[2,2]},"encoding":{
     "x":{"field":"x","type":"quantitative","scale":{"domain":[0,918],"nice":false,"zero":false},"axis":{"title":null,"orient":"bottom","values":[45,58,70,81,92,103,114,126,138,150,163,182,186,190,194,198,203,207,211,215,219,223,226,244,259,274,287,301,314,328,340,352,367,442,486,518,542,562,578,593,606,617,682,720,746,767,784,799,811,822,832,894],"labelExpr":"datum.value==45?'-10':datum.value==203?'0':(datum.value==367||datum.value==617||datum.value==832)?'10':''","tickSize":{"condition":[{"test":"indexof([45,203,367,617,832],datum.value)>=0","value":10},{"test":"datum.value>180&&datum.value<228","value":8}],"value":5},"tickWidth":{"condition":[{"test":"indexof([45,203,367,617,832],datum.value)>=0","value":3},{"test":"datum.value>180&&datum.value<228","value":2}],"value":1.5},"labelOffset":{"condition":{"test":"datum.value==45","value":5},"value":0},"labelPadding":20}},
     "y":{"field":"y","type":"quantitative","scale":{"domain":[0,105],"nice":false},"axis":{"title":null,"values":[0,5,10,15,20,25,30,35,40,45,50,55,60,65,70,75,80,85,90,95,100],"labelExpr":"datum.value%20==0?''+datum.value:''","tickSize":{"condition":{"test":"datum.value%20==0","value":8},"value":4},"tickWidth":{"condition":{"test":"datum.value%20==0","value":2},"value":1},"tickColor":{"condition":{"test":"datum.value%20==0","value":"#000"},"value":"#555"},"labelOffset":{"condition":{"test":"datum.value==0","value":-7},"value":6},"labelBaseline":"middle","labelPadding":8}},
     "color":{"field":"s","type":"nominal","legend":null,"scale":{"domain":["red","cyan","orange","green","darkgreen","rosybrown","purple"],"range":["#ec4248","#3ec6f0","#f8a350","#78e460","#3f6a22","#caa39c","#a72bd9"]}}}},
   {"mark":{"type":"point","opacity":0,"size":1},"encoding":{"x":{"field":"x","type":"quantitative","scale":{"domain":[0,918],"nice":false,"zero":false},"axis":{"title":null,"orient":"bottom","values":[45,367,617,832],"labelExpr":"datum.value==617?'4':datum.value==832?'5':'3'","ticks":false,"domain":false,"labelAlign":"left","labelFontSize":18,"labelOffset":{"condition":{"test":"datum.value==45","value":20},"value":13},"labelPadding":18}}}}
  ],"resolve":{"axis":{"x":"independent"}}}
 ]}
],
"config":{
 "view":{"stroke":"#aaaaaa","strokeWidth":1.5},
 "axis":{"labelFont":"Liberation Sans","labelFontWeight":"bold","labelFontSize":21,"labelColor":"#000","domainColor":"#888888","domainWidth":1.5,"grid":false,"labelOverlap":false,"labelFlush":false,"tickColor":"#111111"},
 "title":{"font":"Liberation Sans","fontSize":33,"fontWeight":"normal","color":"#000","offset":9}
}
}
